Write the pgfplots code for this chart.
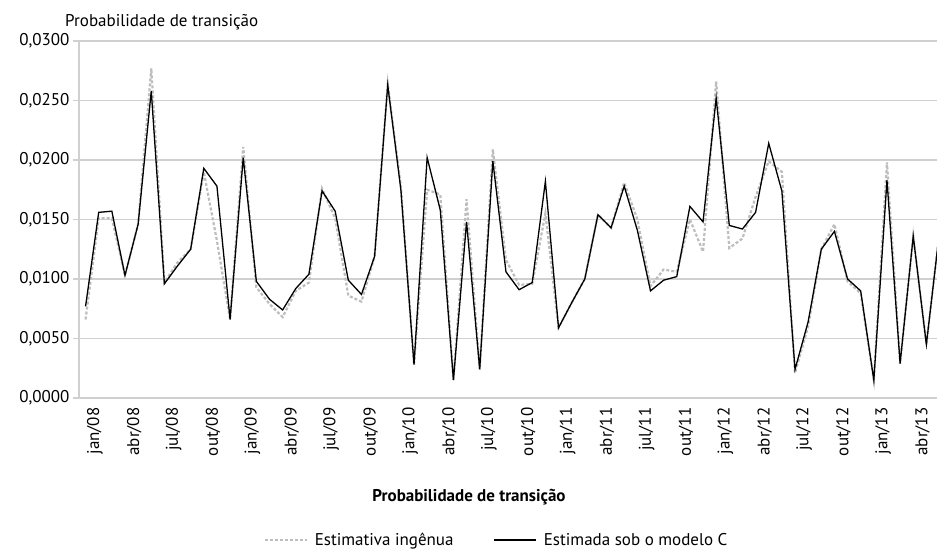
\documentclass[border=0pt]{standalone}
\usepackage{pgfplots}
\usepackage{pgfplotstable}
\pgfplotsset{compat=1.18}
\usepackage{fontspec}
\setmainfont{PT Sans}
\definecolor{gridgray}{HTML}{D0D0D0}
\definecolor{naive}{HTML}{BDBDBD}
\pgfplotstableread{
i naive modelc
0 0.0066 0.0077
1 0.0151 0.0156
2 0.0151 0.0157
3 0.0103 0.0103
4 0.0146 0.0146
5 0.0277 0.0258
6 0.0097 0.0096
7 0.0114 0.0111
8 0.0125 0.0125
9 0.0190 0.0193
10 0.0132 0.0178
11 0.0066 0.0066
12 0.0211 0.0202
13 0.0093 0.0098
14 0.0079 0.0083
15 0.0068 0.0074
16 0.0090 0.0092
17 0.0097 0.0104
18 0.0176 0.0174
19 0.0151 0.0157
20 0.0086 0.0099
21 0.0081 0.0087
22 0.0119 0.0119
23 0.0264 0.0263
24 0.0178 0.0175
25 0.0028 0.0028
26 0.0175 0.0202
27 0.0171 0.0158
28 0.0015 0.0015
29 0.0167 0.0148
30 0.0024 0.0024
31 0.0209 0.0199
32 0.0116 0.0106
33 0.0095 0.0091
34 0.0096 0.0097
35 0.0155 0.0182
36 0.0059 0.0059
37 0.0080 0.0080
38 0.0100 0.0100
39 0.0154 0.0154
40 0.0143 0.0143
41 0.0181 0.0178
42 0.0150 0.0141
43 0.0094 0.0090
44 0.0108 0.0099
45 0.0106 0.0102
46 0.0150 0.0161
47 0.0123 0.0148
48 0.0266 0.0252
49 0.0126 0.0145
50 0.0134 0.0142
51 0.0169 0.0156
52 0.0199 0.0214
53 0.0190 0.0174
54 0.0021 0.0024
55 0.0060 0.0064
56 0.0125 0.0125
57 0.0146 0.0140
58 0.0098 0.0100
59 0.0088 0.0090
60 0.0015 0.0015
61 0.0198 0.0183
62 0.0029 0.0029
63 0.0136 0.0136
64 0.0045 0.0045
65 0.0140 0.0140
}\data
\begin{document}
\begin{tikzpicture}[x=1bp,y=1bp,font=\fontsize{17bp}{20bp}\selectfont]
\useasboundingbox (0,0) rectangle (937,549);
\begin{axis}[
  at={(79bp,151bp)}, anchor=south west, scale only axis,
  width=858bp, height=357bp,
  xmin=-0.5, xmax=64.81, ymin=0, ymax=0.03,
  axis x line*=bottom, axis y line*=left,
  axis line style={-, gridgray, line width=1.2bp},
  ymajorgrids, grid style={gridgray, line width=1.2bp},
  ytick={0,0.005,0.01,0.015,0.02,0.025,0.03},
  scaled y ticks=false,
  yticklabel style={/pgf/number format/.cd, fixed, fixed zerofill, precision=4, use comma, assume math mode=true},
  y tick style={gridgray, line width=1.2bp},
  tick align=outside, major tick length=6bp,
  xtick={0.7,3.7,6.7,9.7,12.7,15.7,18.7,21.7,24.7,27.7,30.7,33.7,36.7,39.7,42.7,45.7,48.7,51.7,54.7,57.7,60.7,63.7},
  xticklabels={jan/08,abr/08,jul/08,out/08,jan/09,abr/09,jul/09,out/09,jan/10,abr/10,jul/10,out/10,jan/11,abr/11,jul/11,out/11,jan/12,abr/12,jul/12,out/12,jan/13,abr/13},
  x tick style={draw=none},
  xticklabel style={rotate=90, anchor=east},
  clip=true,
  legend columns=2,
  legend style={at={(0.4866,-0.398)}, anchor=center, draw=none, fill=none,
    /tikz/every odd column/.append style={column sep=5bp},
    /tikz/every even column/.append style={column sep=38bp}},
  legend image code/.code={\draw[#1] (0bp,0bp) -- (42bp,0bp);},
]
\addplot[naive, line width=2.2bp, dash pattern=on 3bp off 2bp] table[x=i, y=naive] {\data};
\addlegendentry{Estimativa ingênua}
\addplot[black, line width=1.3bp] table[x=i, y=modelc] {\data};
\addlegendentry{Estimada sob o modelo C}
\end{axis}
\node[anchor=base west, inner sep=0] at (65,522) {Probabilidade de transição};
\node[font=\fontsize{17bp}{20bp}\selectfont\bfseries] at (469,52) {Probabilidade de transição};
\end{tikzpicture}
\end{document}
